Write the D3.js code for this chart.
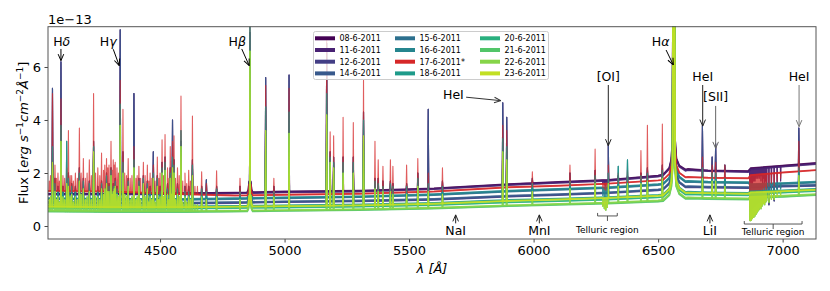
<!DOCTYPE html>
<html><head><meta charset="utf-8">
<script src="https://cdn.jsdelivr.net/npm/d3@7"></script>
<style>body{margin:0;background:#fff;} svg{display:block;font-family:"DejaVu Sans",sans-serif;}</style>
</head><body><svg id="chart" width="830" height="291"></svg>
<script>
// ---------------- DATA ----------------
const seriesLabels = ["08-6-2011","11-6-2011","12-6-2011","14-6-2011","15-6-2011","16-6-2011","17-6-2011*","18-6-2011","20-6-2011","21-6-2011","22-6-2011","23-6-2011"];
const seriesColors = ["#440154","#482173","#433e85","#38598c","#2d708e","#25858e","#d62728","#1e9b8a","#2ab07f","#52c569","#86d549","#c2df23"];
const seriesGroup  = ["P","P","P","P","T","T","R","T","G","G","G","G"];

// continuum levels (1e-13 erg s^-1 cm^-2 A^-1) at anchor wavelengths
const contWl = [4050,4300,4600,4800,5000,5300,5600,5900,6100,6300,6500,6620,6700,6862,6872,7000,7134];
const cont08 = [1.22,1.22,1.24,1.26,1.30,1.33,1.42,1.58,1.66,1.74,1.90,2.15,2.10,2.07,2.18,2.28,2.38];
const cont11 = [1.19,1.19,1.21,1.23,1.27,1.30,1.39,1.55,1.63,1.71,1.87,2.11,2.07,2.04,2.14,2.24,2.34];
const cont12 = [0.87,0.85,0.85,0.87,0.90,0.93,0.99,1.11,1.17,1.24,1.35,1.47,1.45,1.43,1.45,1.49,1.52];
const cont14 = [0.90,0.88,0.88,0.90,0.93,0.96,1.02,1.14,1.20,1.27,1.38,1.50,1.48,1.46,1.48,1.52,1.55];
const cont15 = [1.02,0.99,0.99,1.02,1.05,1.09,1.17,1.30,1.37,1.43,1.55,1.67,1.64,1.62,1.55,1.59,1.64];
const cont16 = [1.05,1.02,1.02,1.05,1.08,1.12,1.20,1.33,1.40,1.46,1.58,1.70,1.67,1.65,1.58,1.62,1.67];
const cont17 = [1.32,1.30,1.20,1.15,1.18,1.22,1.30,1.46,1.52,1.60,1.72,1.85,1.82,1.80,1.92,2.02,2.11];
const cont18 = [0.76,0.74,0.74,0.76,0.78,0.81,0.87,0.98,1.03,1.09,1.17,1.29,1.27,1.25,1.30,1.34,1.40];
const cont20 = [0.69,0.66,0.66,0.68,0.70,0.73,0.79,0.89,0.94,1.00,1.08,1.20,1.18,1.16,1.22,1.26,1.32];
const cont21 = [0.55,0.53,0.53,0.55,0.57,0.60,0.66,0.75,0.80,0.85,0.92,1.04,1.02,1.00,1.06,1.10,1.17];
const cont22 = [0.58,0.56,0.56,0.58,0.60,0.63,0.69,0.78,0.83,0.88,0.96,1.08,1.06,1.04,1.10,1.14,1.20];
const cont23 = [0.73,0.71,0.71,0.73,0.75,0.78,0.84,0.95,1.00,1.06,1.14,1.26,1.24,1.22,1.27,1.31,1.37];

// emission lines: wavelength and peak flux per group (P purple/blue, R red, T teal, G green/yellow)
const lineWl = [4068,4078,4090,4102,4110,4125,4132,4145,4160,4176,4192,4216,4233,4250,4265,4285,4295,4303,4312,4320,4327,4340,4351,4372,4395,4415,4433,4449,4460,4473,4489,4500,4508,4520,4530,4541,4550,4556,4570,4584,4600,4615,4630,4667,4686,4727,4821,4861,4924,4957,5018,5169,5183,5197,5235,5276,5317,5363,5376,5395,5425,5435,5490,5535,5577,5634,5876,5892,5995,6146,6247,6300,6340,6377,6431,6457,6517,6563,6678,6717,6731,6768,7065];
const peakP  = [5.2,1.8,1.5,6.2,1.5,1.8,2.0,1.6,1.5,2.2,1.8,1.7,3.2,1.5,1.7,2.0,1.6,2.2,1.6,1.8,1.5,7.4,2.8,1.8,5.0,1.8,1.9,1.7,1.5,2.8,1.9,1.5,2.4,2.6,1.6,2.2,4.0,2.5,1.6,3.2,1.5,1.5,2.5,1.5,1.74,1.5,1.5,7.3,5.6,1.5,5.7,6.9,2.8,2.6,2.6,2.6,4.3,1.8,1.8,1.7,1.7,1.6,1.6,2.0,4.4,1.7,4.65,4.1,1.8,2.0,2.1,3.1,1.9,1.9,2.0,2.2,2.3,12,3.8,2.6,3.1,2.3,3.7];
const peakR  = [5.0,2.3,2.0,4.8,1.9,2.2,3.6,1.9,2.0,3.7,2.55,2.5,5.0,2.2,2.75,2.55,2.3,3.2,2.5,2.4,2.2,5.5,4.4,2.55,3.0,2.25,2.4,2.3,2.0,2.3,2.6,2.0,3.25,3.45,2.2,3.0,3.2,3.4,2.2,4.9,2.0,2.1,4.15,2.05,1.6,2.08,1.8,7.6,5.3,1.8,5.2,7.0,3.55,3.4,4.1,3.9,5.5,3.2,2.5,2.25,2.5,2.25,2.3,2.55,2.0,2.2,3.8,3.6,2.05,2.3,2.9,2.3,2.0,2.1,2.85,3.8,3.85,12,2.6,2.3,2.4,2.3,3.2];
const peakT  = [3.0,1.6,1.3,3.8,1.3,3.2,1.8,1.5,1.3,2.0,1.7,1.6,3.0,1.3,1.6,1.9,1.5,2.1,1.5,1.7,1.4,4.6,2.4,1.7,2.5,1.7,1.8,1.6,1.3,2.0,1.8,1.3,2.2,2.4,1.4,2.0,2.6,2.3,1.4,3.6,1.3,1.3,2.3,1.4,1.3,1.4,1.3,8.0,4.5,1.3,4.3,5.0,2.6,2.4,2.4,2.4,4.0,1.7,1.6,1.5,1.6,1.5,1.5,1.8,1.6,1.5,3.3,3.0,1.6,1.7,1.9,2.0,2.25,2.5,1.9,2.0,2.1,12,2.2,2.0,2.0,1.8,2.2];
const peakG  = [2.4,1.3,1.1,3.2,1.1,1.6,1.5,1.2,1.1,1.7,1.4,1.3,2.8,1.1,1.4,1.6,1.3,1.9,1.3,1.5,1.2,3.8,2.0,1.5,2.2,1.5,1.6,1.4,1.1,1.8,1.5,1.1,2.0,2.1,1.2,1.8,2.2,2.0,1.2,3.0,1.1,1.1,1.9,1.1,1.0,1.1,1.0,6.6,3.6,1.1,3.5,4.2,2.4,2.2,2.0,2.0,3.4,1.4,1.3,1.3,1.3,1.2,1.2,1.5,1.3,1.2,2.8,2.5,1.3,1.4,1.6,1.6,1.5,1.6,1.6,1.7,1.8,12,1.8,1.7,1.7,1.5,1.9];

// dense weak-line forest in the blue part (red and green/yellow spectra)
const forestWl = [4055,4060,4084,4096,4117,4139,4152,4168,4183,4200,4207,4224,4241,4258,4273,4278,4290,4308,4316,4333,4358,4365,4380,4387,4403,4408,4422,4440,4455,4467,4480,4495,4514,4536,4546,4562,4577,4591,4607,4622,4640,4650];
const forestR  = [1.7,1.9,1.8,1.7,1.8,1.9,1.7,1.8,2.0,1.8,2.0,1.9,2.0,1.9,2.1,2.3,2.2,2.1,2.3,2.0,2.0,1.9,1.8,1.9,1.8,1.9,1.8,1.9,1.7,1.8,1.7,1.8,1.9,1.8,1.9,1.8,1.9,1.7,1.6,1.7,1.5,1.5];
const forestG  = [1.0,1.1,1.0,0.9,1.0,1.1,0.9,1.0,1.2,1.0,1.1,1.0,1.1,1.0,1.2,1.4,1.3,1.2,1.4,1.1,1.2,1.1,1.0,1.1,1.0,1.1,1.0,1.1,0.9,1.0,0.9,1.0,1.1,1.0,1.2,1.0,1.1,0.9,0.9,1.0,0.8,0.8];

// broad wings of H-alpha and H-beta (excess flux above continuum)
const haWl = [6520,6545,6553,6558,6561,6565,6568,6573,6585,6610];
const haEx = [0,0.2,0.5,1.2,9,9,1.2,0.5,0.2,0];
const hbWl = [4850,4855,4858,4864,4867,4872];
const hbEx = [0,0.1,0.4,0.4,0.1,0];

// telluric absorption minima per group
const telWl   = [6278,6284,6290,6296,6868,6870,6872,6874,6876,6879,6882,6884,6887,6889,6892,6894,6897,6900,6903,6906,6910,6913,6917,6920,6924,6928,6932,6936,6945,6955,6966,6978,6992];
const telMinP = [1.6,1.55,1.5,1.6,1.5,1.4,1.6,1.5,1.7,1.6,1.8,1.7,1.8,1.7,1.9,1.8,1.9,1.8,1.9,1.8,1.9,1.7,1.9,1.5,1.8,1.5,1.7,1.1,0.8,1.3,0.95,1.4,1.7];
const telMinR = [1.45,1.4,1.35,1.45,1.0,0.95,1.05,1.0,1.1,1.0,1.15,1.1,1.2,1.1,1.25,1.2,1.3,1.2,1.3,1.25,1.35,1.2,1.4,1.3,1.45,1.3,1.5,1.4,1.5,1.6,1.5,1.7,1.8];
const telMinT = [1.15,1.1,1.05,1.15,0.6,0.55,0.65,0.6,0.7,0.65,0.75,0.7,0.8,0.75,0.85,0.8,0.9,0.85,0.95,0.9,1.0,0.95,1.05,1.0,1.1,1.05,1.15,1.1,1.2,1.3,1.2,1.35,1.4];
const telMinG = [0.75,0.65,0.6,0.7,0.22,0.2,0.25,0.22,0.3,0.28,0.35,0.32,0.4,0.38,0.45,0.45,0.5,0.55,0.6,0.62,0.7,0.65,0.75,0.8,0.85,0.8,0.9,0.95,0.9,1.0,1.0,1.1,1.15];

const xTicks = [4500,5000,5500,6000,6500,7000];
const yTicks = [0,2,4,6];

// annotations: label, text position (wl, flux), arrow start and end (wl, flux)
const annLabels = [["H","δ"],["H","γ"],["H","β"],["H","α"],["[OI]"],["HeI"],["[SII]"],["HeI"],["HeI"],["NaI"],["MnI"],["LiI"]];
const annText   = [[4105,6.95],[4292,6.95],[4810,6.95],[6510,6.95],[6300,5.63],[6679,5.63],[6731,4.88],[7066,5.63],[5678,4.94],[5687,-0.18],[6023,-0.18],[6708,-0.18]];
const annFrom   = [[4102,6.68],[4312,6.67],[4828,6.68],[6532,6.64],[6300,5.32],[6679,5.32],[6731,4.53],[7066,5.32],[5729,4.86],[5687,0.10],[6023,0.10],[6708,0.10]];
const annTo     = [[4102,6.24],[4336,6.05],[4858,6.05],[6561,6.08],[6300,3.03],[6679,3.77],[6731,2.93],[7066,3.75],[5868,4.73],[5687,0.42],[6023,0.42],[6708,0.42]];
const annColor  = ["#000","#000","#000","#000","#222","#222","#666","#777","#333","#222","#222","#222"];
const tellLabels = ["Telluric region","Telluric region"];
const tellRange  = [[6257,6336],[6846,7078]];
const tellLevel  = [0.38,0.075];
const tellTextY  = [-0.18,-0.26];

// ---------------- DRAW ----------------
const svg = d3.select("#chart");
const L=48, R=816, T=26.7, B=239;
const x = d3.scaleLinear().domain([4050,7134]).range([L,R]);
const y = d3.scaleLinear().domain([-0.49,7.52]).range([B,T]);

const contArrays = [cont08,cont11,cont12,cont14,cont15,cont16,cont17,cont18,cont20,cont21,cont22,cont23];
const peakBy = {P:peakP,R:peakR,T:peakT,G:peakG};
const forestBy = {R:forestR,G:forestG};
const telBy = {P:telMinP,R:telMinR,T:telMinT,G:telMinG};
const haS = d3.scaleLinear().domain(haWl).range(haEx).clamp(true);
const hbS = d3.scaleLinear().domain(hbWl).range(hbEx).clamp(true);

svg.append("defs").append("clipPath").attr("id","clip")
  .append("rect").attr("x",L).attr("y",T).attr("width",R-L).attr("height",B-T);

const lineGen = d3.line().x(d=>x(d[0])).y(d=>y(d[1]));
const gPlot = svg.append("g").attr("clip-path","url(#clip)");

contArrays.forEach((cont,i)=>{
  const cs = d3.scaleLinear().domain(contWl).range(cont);
  const base = wl => cs(wl)+haS(wl)+hbS(wl);
  const grp = seriesGroup[i];
  const pk = peakBy[grp], tm = telBy[grp], fr = forestBy[grp];
  const wls = Array.from(new Set([...contWl,...haWl,...hbWl])).sort((a,b)=>a-b);
  const contPts = wls.map(w=>[w,base(w)]);
  const pts = contPts.slice();
  lineWl.forEach((w,k)=>{
    pts.push([w-2,base(w-2)],[w,Math.max(pk[k],base(w))],[w+2,base(w+2)]);
  });
  if(fr) forestWl.forEach((w,k)=>{
    pts.push([w-1.5,base(w-1.5)],[w,Math.max(fr[k],base(w))],[w+1.5,base(w+1.5)]);
  });
  telWl.forEach((w,k)=>{
    pts.push([w-1,base(w-1)],[w,Math.min(tm[k],base(w))],[w+1,base(w+1)]);
  });
  pts.sort((a,b)=>a[0]-b[0]);
  gPlot.append("path").attr("d",lineGen(contPts)).attr("fill","none")
    .attr("stroke",seriesColors[i]).attr("stroke-width",1.9).attr("stroke-opacity",0.85);
  gPlot.append("path").attr("d",lineGen(pts)).attr("fill","none")
    .attr("stroke",seriesColors[i]).attr("stroke-width",1.1).attr("stroke-opacity",0.75)
    .attr("stroke-linejoin","round");
});

// axes
const xAxis = svg.append("g").attr("transform",`translate(0,${B})`)
  .call(d3.axisBottom(x).tickValues(xTicks).tickSize(3.5).tickPadding(3.5).tickFormat(d3.format("d")));
const yAxis = svg.append("g").attr("transform",`translate(${L},0)`)
  .call(d3.axisLeft(y).tickValues(yTicks).tickSize(3.5).tickPadding(3.5).tickFormat(d3.format("d")));
[xAxis,yAxis].forEach(a=>{
  a.select(".domain").remove();
  a.selectAll("text").attr("font-size",13).attr("font-family","DejaVu Sans").attr("fill","#000");
  a.selectAll("line").attr("stroke","#333").attr("stroke-width",0.9);
});
svg.append("rect").attr("x",L).attr("y",T).attr("width",R-L).attr("height",B-T)
  .attr("fill","none").attr("stroke","#555").attr("stroke-width",1);

// offset text
svg.append("text").attr("x",L).attr("y",24).attr("font-size",13).text("1e\u221213");

// axis labels
const yl = svg.append("text").attr("transform",`translate(28,${(T+B)/2}) rotate(-90)`)
  .attr("text-anchor","middle").attr("font-size",13);
yl.append("tspan").text("Flux  [");
yl.append("tspan").attr("font-style","italic").text("erg s");
yl.append("tspan").attr("font-size",9).attr("dy",-5).text("\u22121");
yl.append("tspan").attr("font-style","italic").attr("dy",5).text("cm");
yl.append("tspan").attr("font-size",9).attr("dy",-5).text("\u22122");
yl.append("tspan").attr("font-style","italic").attr("dy",5).text("Å");
yl.append("tspan").attr("font-size",9).attr("dy",-5).text("\u22121");
yl.append("tspan").attr("dy",5).text("]");

svg.append("text").attr("x",(L+R)/2).attr("y",273).attr("text-anchor","middle")
  .attr("font-size",13).attr("font-style","italic").text("λ [Å]");

// arrow markers
const defs = svg.select("defs");
const markerColors = Array.from(new Set(annColor));
markerColors.forEach((c,j)=>{
  defs.append("marker").attr("id","ah"+j).attr("viewBox","0 0 8 8")
    .attr("refX",7.5).attr("refY",4).attr("markerWidth",8).attr("markerHeight",8)
    .attr("markerUnits","userSpaceOnUse").attr("orient","auto")
    .append("path").attr("d","M1,1.2 L7.5,4 L1,6.8").attr("fill","none")
    .attr("stroke",c).attr("stroke-width",1);
});

// annotations
annLabels.forEach((lab,k)=>{
  const t = svg.append("text").attr("x",x(annText[k][0])).attr("y",y(annText[k][1]))
    .attr("text-anchor","middle").attr("dominant-baseline","middle").attr("font-size",12.5);
  t.append("tspan").text(lab[0]);
  if(lab.length>1) t.append("tspan").attr("font-style","italic").text(lab[1]);
  svg.append("line").attr("x1",x(annFrom[k][0])).attr("y1",y(annFrom[k][1]))
    .attr("x2",x(annTo[k][0])).attr("y2",y(annTo[k][1]))
    .attr("stroke",annColor[k]).attr("stroke-width",1)
    .attr("marker-end",`url(#ah${markerColors.indexOf(annColor[k])})`);
});

// telluric brackets
tellLabels.forEach((lab,k)=>{
  const x0=x(tellRange[k][0]), x1=x(tellRange[k][1]), yy=y(tellLevel[k]);
  const xm=(x0+x1)/2;
  svg.append("path").attr("d",`M${x0},${yy-3}L${x0},${yy}L${x1},${yy}L${x1},${yy-3}M${xm},${yy}L${xm},${yy+5}`)
    .attr("fill","none").attr("stroke","#444").attr("stroke-width",0.9);
  svg.append("text").attr("x",xm).attr("y",y(tellTextY[k])).attr("text-anchor","middle")
    .attr("dominant-baseline","middle").attr("font-size",9).text(lab);
});

// legend
const lg = svg.append("g");
lg.append("rect").attr("x",313.5).attr("y",31.5).attr("width",235).attr("height",48)
  .attr("rx",2).attr("fill","#fff").attr("fill-opacity",0.8).attr("stroke","#ccc");
const colX=[315,395,480];
seriesLabels.forEach((lab,i)=>{
  const c=Math.floor(i/4), r=i%4;
  const yy=38.3+r*11.7;
  lg.append("line").attr("x1",colX[c]).attr("x2",colX[c]+20).attr("y1",yy).attr("y2",yy)
    .attr("stroke",seriesColors[i]).attr("stroke-width",4);
  lg.append("text").attr("x",colX[c]+24.5).attr("y",yy+3).attr("font-size",8).text(lab);
});
</script></body></html>
